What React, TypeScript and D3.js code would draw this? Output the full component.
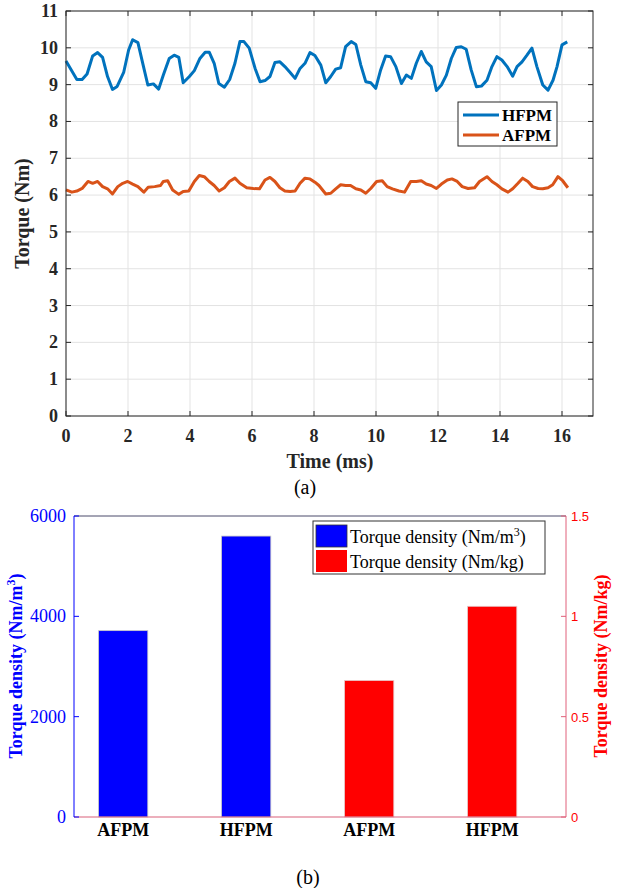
import React from "react";
import * as d3 from "d3";

// ---- Panel (a): torque waveforms ----
const hfpmTime = [0, 0.35, 0.52, 0.68, 0.86, 1.02, 1.18, 1.34, 1.5, 1.65, 1.86, 2.02, 2.15, 2.32, 2.5, 2.64, 2.82, 2.99, 3.14, 3.33, 3.49, 3.64, 3.78, 3.98, 4.14, 4.32, 4.49, 4.62, 4.78, 4.93, 5.11, 5.28, 5.45, 5.61, 5.74, 5.91, 6.1, 6.26, 6.42, 6.58, 6.74, 6.9, 7.06, 7.23, 7.39, 7.55, 7.71, 7.87, 8.03, 8.22, 8.38, 8.54, 8.7, 8.86, 9.02, 9.2, 9.35, 9.51, 9.67, 9.83, 9.99, 10.15, 10.31, 10.47, 10.64, 10.82, 10.98, 11.14, 11.3, 11.46, 11.62, 11.78, 11.95, 12.11, 12.27, 12.43, 12.59, 12.75, 12.91, 13.07, 13.24, 13.4, 13.58, 13.74, 13.9, 14.06, 14.23, 14.41, 14.55, 14.71, 14.87, 15.03, 15.19, 15.38, 15.55, 15.71, 15.84, 16.0, 16.17];
const hfpmTorque = [9.64, 9.14, 9.14, 9.29, 9.78, 9.87, 9.74, 9.22, 8.87, 8.95, 9.33, 9.94, 10.22, 10.14, 9.49, 8.99, 9.02, 8.88, 9.26, 9.71, 9.8, 9.74, 9.05, 9.22, 9.38, 9.71, 9.88, 9.88, 9.58, 9.03, 8.93, 9.14, 9.58, 10.17, 10.17, 9.99, 9.44, 9.08, 9.11, 9.22, 9.6, 9.62, 9.49, 9.33, 9.17, 9.44, 9.58, 9.87, 9.79, 9.53, 9.05, 9.22, 9.42, 9.46, 10.03, 10.17, 10.09, 9.53, 9.08, 9.05, 8.9, 9.4, 9.78, 9.76, 9.49, 9.03, 9.26, 9.17, 9.58, 9.9, 9.62, 9.49, 8.84, 8.99, 9.26, 9.71, 10.01, 10.03, 9.96, 9.4, 8.94, 8.96, 9.12, 9.49, 9.76, 9.67, 9.49, 9.23, 9.49, 9.62, 9.8, 9.99, 9.49, 8.99, 8.85, 9.12, 9.49, 10.08, 10.16];
const afpmTime = [0, 0.19, 0.35, 0.52, 0.71, 0.86, 1.02, 1.18, 1.34, 1.5, 1.67, 1.83, 1.99, 2.15, 2.32, 2.51, 2.65, 2.86, 3.05, 3.14, 3.28, 3.44, 3.64, 3.78, 3.96, 4.14, 4.3, 4.46, 4.62, 4.78, 4.94, 5.11, 5.27, 5.45, 5.61, 5.83, 6.04, 6.24, 6.42, 6.58, 6.74, 6.9, 7.06, 7.23, 7.39, 7.55, 7.71, 7.87, 8.03, 8.16, 8.38, 8.54, 8.7, 8.86, 9.02, 9.18, 9.35, 9.51, 9.67, 9.83, 10.02, 10.2, 10.36, 10.53, 10.74, 10.92, 11.12, 11.3, 11.46, 11.62, 11.78, 11.95, 12.11, 12.3, 12.45, 12.62, 12.78, 12.97, 13.18, 13.34, 13.58, 13.74, 13.9, 14.06, 14.26, 14.41, 14.58, 14.73, 14.9, 15.05, 15.23, 15.38, 15.55, 15.7, 15.87, 16.02, 16.19];
const afpmTorque = [6.14, 6.08, 6.11, 6.18, 6.37, 6.32, 6.37, 6.23, 6.17, 6.03, 6.23, 6.32, 6.37, 6.3, 6.23, 6.08, 6.21, 6.23, 6.26, 6.37, 6.39, 6.14, 6.02, 6.1, 6.11, 6.37, 6.53, 6.5, 6.37, 6.26, 6.11, 6.2, 6.37, 6.46, 6.32, 6.2, 6.18, 6.17, 6.41, 6.48, 6.37, 6.2, 6.11, 6.1, 6.11, 6.32, 6.46, 6.44, 6.35, 6.26, 6.03, 6.05, 6.17, 6.28, 6.26, 6.26, 6.17, 6.14, 6.05, 6.18, 6.37, 6.39, 6.23, 6.17, 6.11, 6.08, 6.37, 6.37, 6.39, 6.3, 6.26, 6.18, 6.3, 6.41, 6.44, 6.37, 6.23, 6.18, 6.2, 6.37, 6.5, 6.37, 6.28, 6.17, 6.08, 6.17, 6.32, 6.46, 6.37, 6.23, 6.18, 6.17, 6.2, 6.28, 6.5, 6.39, 6.2];
const xTicksA = [0, 2, 4, 6, 8, 10, 12, 14, 16];
const yTicksA = [0, 1, 2, 3, 4, 5, 6, 7, 8, 9, 10, 11];
const seriesNames = ["HFPM", "AFPM"];

// ---- Panel (b): torque density bars ----
const barCategories = ["AFPM", "HFPM", "AFPM", "HFPM"];
const volumetricDensity = [3715, 5600]; // Nm/m^3, bars 1-2
const massDensity = [0.68, 1.05]; // Nm/kg, bars 3-4
const yTicksLeft = [0, 2000, 4000, 6000];
const yTicksRight = [0, 0.5, 1, 1.5];
const yTickRightLabels = ["0", "0.5", "1", "1.5"];

const SERIF = "'Liberation Serif', 'Times New Roman', serif";
const SANS = "'Liberation Sans', Arial, sans-serif";
const BLUE_LINE = "#0072BD";
const ORANGE_LINE = "#D95319";
const AXIS = "#262626";
const GRID = "#e3e3e3";

export default function App() {
  // Panel (a) scales
  const xA = d3.scaleLinear().domain([0, 17]).range([66, 593]);
  const yA = d3.scaleLinear().domain([0, 11]).range([416, 11]);
  const lineGen = d3
    .line<[number, number]>()
    .x((d) => xA(d[0]))
    .y((d) => yA(d[1]));
  const hfpmPts: [number, number][] = hfpmTime.map((t, i) => [t, hfpmTorque[i]]);
  const afpmPts: [number, number][] = afpmTime.map((t, i) => [t, afpmTorque[i]]);

  // Panel (b) scales
  const xB = d3.scaleLinear().domain([0.6, 4.6]).range([74, 566]);
  const yL = d3.scaleLinear().domain([0, 6000]).range([817, 516]);
  const yR = d3.scaleLinear().domain([0, 1.5]).range([817, 516]);
  const barHalf = (xB(1.4) - xB(1)) / 2;

  const [aL, aR] = xA.range();
  const [aB, aT] = yA.range();

  return (
    <svg
      width={617}
      height={888}
      style={{ position: "absolute", left: 0, top: 0, background: "#fff" }}
      fontFamily={SERIF}
    >
      <rect x={0} y={0} width={617} height={888} fill="#fff" />
      {/* ===== Panel (a) ===== */}
      {xTicksA.map((t) => (
        <line key={"gx" + t} x1={xA(t)} x2={xA(t)} y1={aB} y2={aT} stroke={GRID} strokeWidth={1} />
      ))}
      {yTicksA.map((v) => (
        <line key={"gy" + v} x1={aL} x2={aR} y1={yA(v)} y2={yA(v)} stroke={GRID} strokeWidth={1} />
      ))}
      <path d={lineGen(hfpmPts) || ""} fill="none" stroke={BLUE_LINE} strokeWidth={3} strokeLinejoin="round" />
      <path d={lineGen(afpmPts) || ""} fill="none" stroke={ORANGE_LINE} strokeWidth={3} strokeLinejoin="round" />
      {/* box */}
      <rect x={aL} y={aT} width={aR - aL} height={aB - aT} fill="none" stroke={AXIS} strokeWidth={1} />
      {xTicksA.map((t) => (
        <g key={"tx" + t}>
          <line x1={xA(t)} x2={xA(t)} y1={aB} y2={aB - 5} stroke={AXIS} />
          <line x1={xA(t)} x2={xA(t)} y1={aT} y2={aT + 5} stroke={AXIS} />
          <text x={xA(t)} y={442} textAnchor="middle" fontSize={18} fontWeight="bold" fill={AXIS}>
            {t}
          </text>
        </g>
      ))}
      {yTicksA.map((v) => (
        <g key={"ty" + v}>
          <line x1={aL} x2={aL + 5} y1={yA(v)} y2={yA(v)} stroke={AXIS} />
          <line x1={aR} x2={aR - 5} y1={yA(v)} y2={yA(v)} stroke={AXIS} />
          <text x={58} y={yA(v) + 6} textAnchor="end" fontSize={18} fontWeight="bold" fill={AXIS}>
            {v}
          </text>
        </g>
      ))}
      <text x={330} y={468} textAnchor="middle" fontSize={20} fontWeight="bold" fill={AXIS}>
        Time (ms)
      </text>
      <text
        transform={`translate(29, ${(aT + aB) / 2}) rotate(-90)`}
        textAnchor="middle"
        fontSize={20}
        fontWeight="bold"
        fill={AXIS}
      >
        Torque (Nm)
      </text>
      {/* legend (a) */}
      <rect x={458} y={102} width={99} height={44} fill="#fff" stroke={AXIS} strokeWidth={1} />
      {seriesNames.map((name, i) => (
        <g key={name}>
          <line
            x1={463}
            x2={499}
            y1={115 + i * 20}
            y2={115 + i * 20}
            stroke={i === 0 ? BLUE_LINE : ORANGE_LINE}
            strokeWidth={3}
          />
          <text x={502} y={121 + i * 20} fontSize={17} fontWeight="bold" fill="#000">
            {name}
          </text>
        </g>
      ))}
      <text x={305} y={494} textAnchor="middle" fontSize={20} fill="#000">
        (a)
      </text>

      {/* ===== Panel (b) ===== */}
      {volumetricDensity.map((v, i) => (
        <rect
          key={"bb" + i}
          x={xB(i + 1) - barHalf}
          y={yL(v)}
          width={barHalf * 2}
          height={yL(0) - yL(v)}
          fill="#0000ff"
          stroke="#c8c8c8"
          strokeWidth={0.8}
        />
      ))}
      {massDensity.map((v, i) => (
        <rect
          key={"rb" + i}
          x={xB(i + 3) - barHalf}
          y={yR(v)}
          width={barHalf * 2}
          height={yR(0) - yR(v)}
          fill="#ff0000"
          stroke="#e6c8c8"
          strokeWidth={0.8}
        />
      ))}
      {/* axes lines */}
      <line x1={74} x2={566} y1={516} y2={516} stroke="#4a4a6a" strokeWidth={1} />
      <line x1={74} x2={566} y1={817} y2={817} stroke="#d9607a" strokeWidth={1.2} />
      <line x1={74} x2={74} y1={516} y2={817} stroke="#0000ff" strokeWidth={1} />
      <line x1={566} x2={566} y1={516} y2={817} stroke="#e0607a" strokeWidth={1} />
      {yTicksLeft.map((v) => (
        <g key={"yl" + v}>
          <line x1={74} x2={79} y1={yL(v)} y2={yL(v)} stroke="#0000ff" />
          <text x={66} y={yL(v) + 6} textAnchor="end" fontSize={18} fill="#0000ff">
            {v}
          </text>
        </g>
      ))}
      {yTicksRight.map((v, i) => (
        <g key={"yr" + v}>
          <line x1={566} x2={561} y1={yR(v)} y2={yR(v)} stroke="#e0607a" />
          <text x={571} y={yR(v) + 5} textAnchor="start" fontSize={13} fontFamily={SANS} fill="#ff0000">
            {yTickRightLabels[i]}
          </text>
        </g>
      ))}
      {barCategories.map((c, i) => (
        <text key={"bc" + i} x={xB(i + 1)} y={836} textAnchor="middle" fontSize={18} fontWeight="bold" fill="#000">
          {c}
        </text>
      ))}
      <text
        transform={`translate(22, 666) rotate(-90)`}
        textAnchor="middle"
        fontSize={18}
        fontWeight="bold"
        fill="#0000ff"
      >
        Torque density (Nm/m
        <tspan dy={-7} fontSize={12}>3</tspan>
        <tspan dy={7}>)</tspan>
      </text>
      <text
        transform={`translate(607, 666) rotate(-90)`}
        textAnchor="middle"
        fontSize={18}
        fontWeight="bold"
        fill="#ff0000"
      >
        Torque density (Nm/kg)
      </text>
      {/* legend (b) */}
      <rect x={313} y={521} width={232} height={53} fill="#fff" stroke="#333" strokeWidth={1} />
      <rect x={316} y={525} width={31} height={22} fill="#0000ff" stroke="#333" strokeWidth={0.8} />
      <rect x={316} y={550} width={31} height={22} fill="#ff0000" />
      <text x={350} y={543} fontSize={18} fill="#000">
        Torque density (Nm/m
        <tspan dy={-7} fontSize={12}>3</tspan>
        <tspan dy={7}>)</tspan>
      </text>
      <text x={350} y={568} fontSize={18} fill="#000">
        Torque density (Nm/kg)
      </text>
      <text x={308} y={884} textAnchor="middle" fontSize={20} fill="#000">
        (b)
      </text>
    </svg>
  );
}
